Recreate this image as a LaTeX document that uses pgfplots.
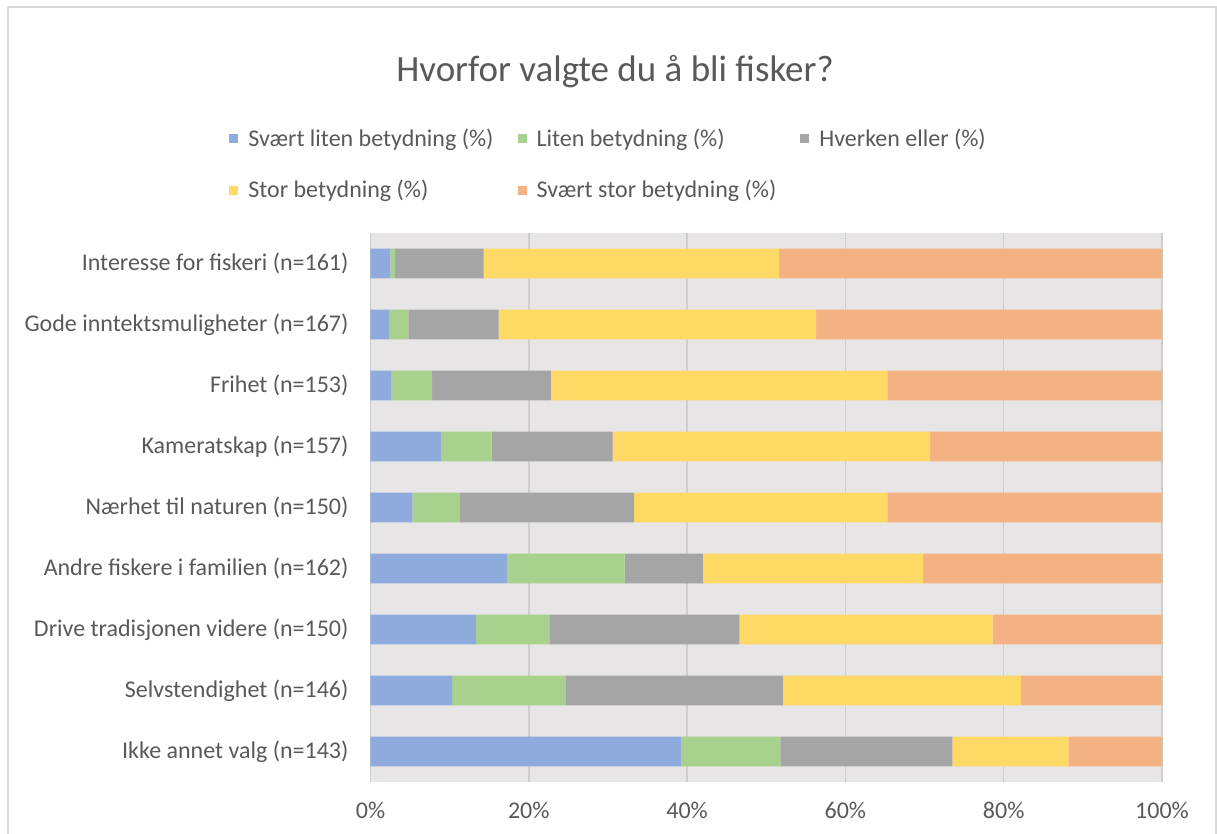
\documentclass[border=0pt]{standalone}
\usepackage{fontspec}
\setmainfont{Carlito}
\usepackage{pgfplots}
\pgfplotsset{compat=1.18}
\usepackage{pgfplotstable}

\definecolor{cblue}{HTML}{8FAADC}
\definecolor{cgreen}{HTML}{A9D18E}
\definecolor{cgrey}{HTML}{A5A5A5}
\definecolor{cyellow}{HTML}{FFD966}
\definecolor{corange}{HTML}{F4B183}
\definecolor{bgc}{HTML}{E7E5E5}
\definecolor{gridc}{HTML}{CFCDCD}
\definecolor{txt}{HTML}{595959}
\definecolor{bordc}{HTML}{D9D9D9}

% andeler i prosent, rad 0 = Interesse for fiskeri (øverst)
\pgfplotstableread{
y a b c d e
0 2.5 0.6 11.2 37.3 48.4
1 2.4 2.4 11.4 40.1 43.7
2 2.6 5.2 15.0 42.5 34.7
3 8.9 6.4 15.3 40.1 29.3
4 5.3 6.0 22.0 32.0 34.7
5 17.3 14.8 9.9 27.8 30.2
6 13.3 9.3 24.0 32.0 21.4
7 10.3 14.4 27.4 30.1 17.8
8 39.2 12.6 21.7 14.7 11.8
}\svar

\begin{document}
\begin{tikzpicture}
\path[use as bounding box] (0pt,0pt) rectangle (608.5pt,-417pt);
\draw[bordc, line width=1pt] (4pt,-425pt) -- (4pt,-3.5pt) -- (608pt,-3.5pt) -- (608pt,-425pt);
\node[font=\fontsize{18.5}{22}\selectfont, text=txt] at (307.5pt,-36pt) {Hvorfor valgte du å bli fisker?};

\begin{axis}[
  xbar stacked,
  legend image code/.code={\path[#1,draw=none] (0pt,-2.25pt) rectangle (4.5pt,2.25pt);},
  bar width=0.49,
  scale only axis,
  width=395.75pt, height=274.5pt,
  at={(185.25pt,-391pt)}, anchor=south west,
  xmin=0, xmax=100,
  ymin=-0.5, ymax=8.5,
  y dir=reverse,
  xtick={0,20,...,100},
  xticklabels={0\%,20\%,40\%,60\%,80\%,100\%},
  ytick={0,...,8},
  yticklabels={Interesse for fiskeri (n=161),Gode inntektsmuligheter (n=167),Frihet (n=153),Kameratskap (n=157),Nærhet til naturen (n=150),Andre fiskere i familien (n=162),Drive tradisjonen videre (n=150),Selvstendighet (n=146),Ikke annet valg (n=143)},
  axis background/.style={fill=bgc},
  axis line style={draw=none},
  major tick length=0pt,
  xmajorgrids,
  grid style={gridc, line width=0.75pt},
  tick label style={font=\fontsize{12}{14}\selectfont, text=txt},
  xticklabel style={yshift=-6.5pt},
  yticklabel style={xshift=-7.5pt},
  every axis plot/.append style={draw=none},
  legend columns=3,
  legend cell align=left,
  legend style={at={(0.302,1.1245)}, anchor=center, draw=none, fill=none,
    font=\fontsize{12}{14}\selectfont, text=txt, row sep=11.5pt,
    /tikz/every odd column/.append style={column sep=3pt},
    /tikz/every even column/.append style={column sep=10pt}},
]
\addplot[fill=cblue] table[x=a, y=y] {\svar};
\addplot[fill=cgreen] table[x=b, y=y] {\svar};
\addplot[fill=cgrey] table[x=c, y=y] {\svar};
\addplot[fill=cyellow] table[x=d, y=y] {\svar};
\addplot[fill=corange] table[x=e, y=y] {\svar};
\legend{Svært liten betydning (\%),Liten betydning (\%),Hverken eller (\%),Stor betydning (\%),Svært stor betydning (\%)}
\end{axis}
\end{tikzpicture}
\end{document}
